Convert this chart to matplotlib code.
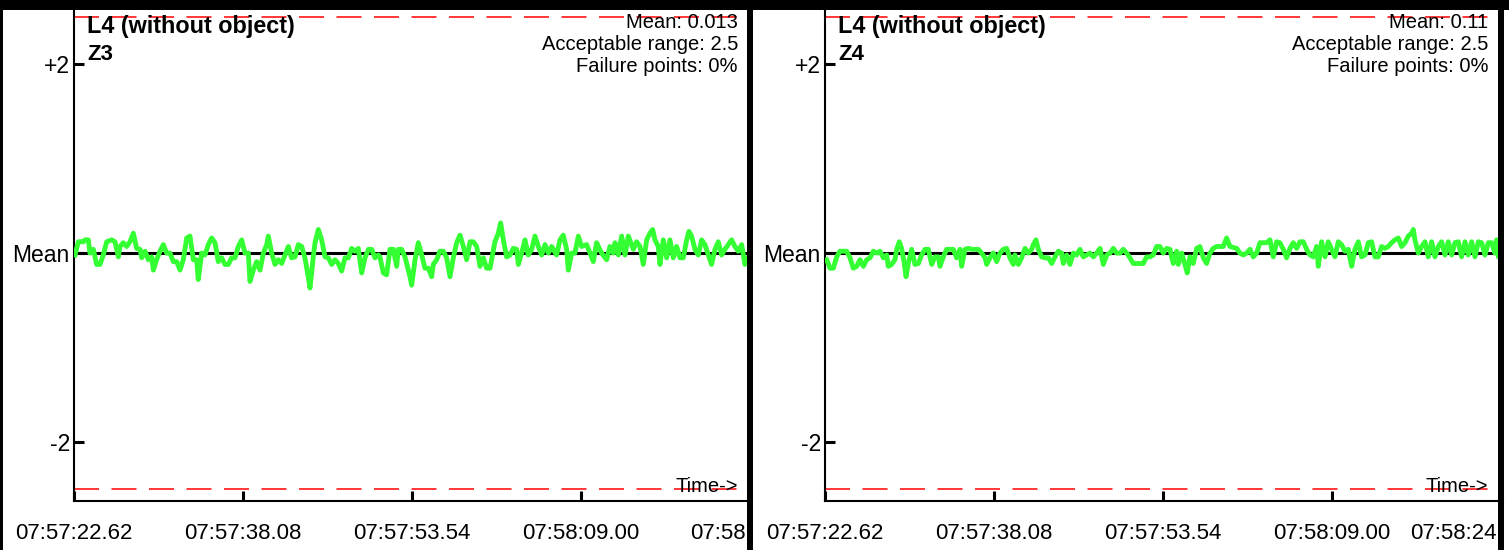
import matplotlib
matplotlib.use("Agg")
import matplotlib.pyplot as plt
from matplotlib.patches import Rectangle
from matplotlib.transforms import Bbox, TransformedBbox

plt.rcParams["font.family"] = ["Liberation Sans", "DejaVu Sans"]
plt.rcParams["lines.scale_dashes"] = False

# time axis (seconds after 07:57:22.62)
tick_times = [0, 15.46, 30.92, 46.38, 61.84]
tick_labels = ["07:57:22.62", "07:57:38.08", "07:57:53.54", "07:58:09.00", "07:58:24.46"]

# Z3: offset from mean
z3_time = [0.09, 0.40, 0.85, 1.01, 1.31, 1.46, 1.77, 2.07, 2.38, 2.68, 2.99, 3.45, 3.75, 4.06, 4.21,
           4.51, 4.82, 5.12, 5.43, 5.73, 6.04, 6.19, 6.50, 6.80, 7.11, 7.26, 7.56, 7.87, 8.17, 8.48,
           8.78, 9.09, 9.39, 9.70, 10.00, 10.31, 10.61, 10.92, 11.22, 11.37, 11.68, 11.98, 12.29, 12.59,
           12.90, 13.20, 13.51, 13.81, 14.12, 14.42, 14.73, 15.03, 15.34, 15.64, 15.95, 16.10, 16.41,
           16.71, 17.02, 17.32, 17.63, 17.78, 18.08, 18.39, 18.69, 19.00, 19.30, 19.61, 19.91, 20.22,
           20.52, 20.83, 21.13, 21.44, 21.59, 21.89, 22.05, 22.35, 22.66, 22.96, 23.27, 23.57, 23.88,
           24.18, 24.49, 24.79, 25.10, 25.40, 25.71, 26.01, 26.32, 26.62, 26.93, 27.23, 27.54, 27.84,
           27.99, 28.30, 28.60, 28.91, 29.21, 29.52, 29.67, 29.98, 30.28, 30.59, 30.74, 30.89, 31.20,
           31.50, 31.81, 32.11, 32.42, 32.72, 32.87, 33.18, 33.48, 33.79, 34.09, 34.40, 34.70, 35.01,
           35.31, 35.62, 35.92, 36.23, 36.53, 36.84, 37.14, 37.45, 37.75, 38.06, 38.51, 38.82, 39.03,
           39.28, 39.58, 39.89, 40.19, 40.50, 40.65, 40.95, 41.26, 41.56, 41.87, 42.17, 42.48, 42.78,
           43.09, 43.39, 43.70, 44.15, 44.46, 44.76, 45.07, 45.22, 45.53, 45.83, 46.14, 46.44, 46.90,
           47.20, 47.51, 47.81, 48.27, 48.73, 49.03, 49.34, 49.49, 49.80, 50.10, 50.41, 50.71, 51.17,
           51.47, 51.78, 52.08, 52.39, 52.69, 52.94, 53.15, 53.45, 53.61, 53.91, 54.22, 54.52, 54.83,
           55.13, 55.44, 55.74, 56.05, 56.26, 56.50, 56.81, 57.11, 57.42, 57.72, 58.03, 58.33, 58.64,
           58.94, 59.25, 59.55, 59.86, 60.16, 60.47, 60.77, 61.08, 61.38, 61.69, 62.00]
z3_offset = [-0.02, 0.12, 0.12, 0.14, 0.14, 0.00, 0.04, -0.12, -0.12, -0.02, 0.12, 0.14, 0.12, -0.04, 0.07,
             0.11, 0.07, 0.12, 0.21, 0.05, 0.04, -0.05, 0.02, -0.07, -0.04, -0.18, -0.07, 0.02, 0.09, 0.00,
             0.00, -0.09, -0.09, -0.18, -0.07, 0.16, 0.18, -0.07, -0.07, -0.28, 0.00, -0.02, 0.09, 0.16,
             0.11, -0.09, -0.05, -0.12, -0.12, -0.05, -0.05, 0.07, 0.14, 0.00, 0.00, -0.30, -0.18,
             -0.09, -0.18, 0.00, 0.09, 0.18, 0.00, -0.12, -0.07, -0.11, -0.02, 0.07, -0.05, -0.04,
             0.09, 0.07, -0.05, -0.26, -0.37, -0.04, 0.11, 0.25, 0.14, -0.04, -0.05, -0.12, -0.07,
             -0.11, -0.19, -0.05, -0.05, 0.05, 0.02, 0.05, -0.21, -0.05, 0.04, 0.04, -0.05, -0.02,
             -0.04, -0.21, -0.23, 0.04, 0.04, -0.14, 0.04, 0.04, -0.04, -0.18, -0.25, -0.34, -0.07,
             0.11, -0.02, -0.16, -0.16, -0.25, -0.12, -0.07, 0.02, 0.02, -0.05, -0.25, -0.05, 0.11,
             0.19, 0.07, -0.07, 0.12, 0.12, 0.07, -0.14, -0.05, -0.16, -0.16, 0.12, 0.21, 0.32,
             0.14, -0.04, -0.02, 0.05, 0.04, -0.12, 0.00, 0.14, -0.02, 0.04, 0.18, 0.07, -0.02,
             0.09, 0.00, 0.07, -0.02, 0.14, 0.19, 0.04, -0.18, 0.00, 0.00, 0.18, 0.07, 0.09,
             0.00, -0.09, 0.11, 0.00, -0.07, 0.07, 0.00, 0.11, -0.02, 0.18, -0.02, 0.18, 0.04,
             0.12, 0.07, -0.12, 0.14, 0.21, 0.25, 0.14, 0.07, -0.12, 0.14, -0.05, 0.14, -0.05,
             0.07, -0.05, -0.05, 0.14, 0.23, 0.18, 0.04, -0.02, 0.14, 0.09, -0.02, -0.12, 0.04,
             0.12, -0.02, 0.04, 0.09, 0.14, 0.07, 0.02, 0.09, -0.12, -0.04, 0.00]

# Z4: offset from mean
z4_time = [0.15, 0.46, 0.76, 1.07, 1.37, 1.68, 1.98, 2.29, 2.59, 2.90, 3.20, 3.51, 3.81, 4.12, 4.42,
           4.73, 5.03, 5.34, 5.64, 5.79, 6.10, 6.40, 6.56, 6.80, 7.01, 7.23, 7.41, 7.62, 7.93, 8.23,
           8.54, 8.84, 9.15, 9.45, 9.76, 10.06, 10.37, 10.52, 10.82, 11.13, 11.43, 11.74, 12.04, 12.35,
           12.50, 12.81, 13.11, 13.42, 13.72, 14.03, 14.33, 14.64, 14.79, 15.09, 15.40, 15.70, 16.01,
           16.31, 16.62, 16.92, 17.23, 17.38, 17.69, 17.99, 18.30, 18.60, 18.91, 19.06, 19.30, 19.52,
           19.82, 20.13, 20.43, 20.74, 21.04, 21.35, 21.65, 21.80, 22.11, 22.41, 22.72, 23.02, 23.33,
           23.63, 23.94, 24.24, 24.55, 24.85, 25.16, 25.46, 25.77, 26.07, 26.38, 26.68, 26.99, 27.29,
           27.60, 27.90, 28.20, 28.51, 28.81, 29.12, 29.42, 29.73, 30.03, 30.34, 30.64, 30.95, 31.25,
           31.56, 31.86, 32.17, 32.32, 32.63, 32.93, 33.14, 33.39, 33.69, 34.00, 34.30, 34.61, 34.91,
           35.22, 35.52, 35.83, 36.44, 36.74, 37.05, 37.66, 37.96, 38.27, 38.57, 38.88, 39.18, 39.49,
           39.79, 40.10, 40.40, 40.71, 41.01, 41.32, 41.62, 41.93, 42.23, 42.54, 42.84, 43.15, 43.45,
           43.76, 44.06, 44.37, 44.67, 44.98, 45.13, 45.43, 45.74, 46.04, 46.35, 46.65, 46.96, 47.26,
           47.57, 47.87, 48.18, 48.48, 48.79, 49.09, 49.40, 49.70, 50.01, 50.31, 50.62, 50.92, 51.23,
           51.53, 51.84, 52.14, 52.45, 52.75, 53.06, 53.36, 53.67, 53.82, 53.97, 54.28, 54.58, 54.89,
           55.19, 55.50, 55.80, 56.11, 56.41, 56.72, 57.02, 57.33, 57.63, 57.94, 58.24, 58.55, 58.85,
           59.16, 59.46, 59.77, 60.07, 60.38, 60.68, 60.99, 61.29, 61.44, 61.60, 62.00]
z4_offset = [-0.07, -0.16, -0.16, -0.04, 0.02, 0.02, 0.02, -0.05, -0.16, -0.14, -0.07, -0.14, -0.07, -0.05, 0.02,
             0.00, 0.02, -0.05, -0.02, -0.14, -0.12, -0.07, 0.04, 0.12, 0.05, -0.09, -0.25, -0.11, 0.04, -0.12,
             -0.11, -0.02, 0.04, 0.04, -0.12, -0.04, -0.04, -0.14, -0.04, 0.04, 0.04, 0.04, -0.05, 0.04,
             -0.14, 0.04, 0.05, 0.04, 0.04, 0.04, 0.00, -0.05, -0.12, -0.05, 0.00, -0.09, 0.00,
             0.04, 0.05, -0.05, -0.12, -0.02, -0.12, -0.05, 0.05, 0.00, 0.04, 0.09, 0.14, 0.04,
             -0.04, -0.05, -0.05, -0.11, -0.04, 0.02, 0.00, -0.11, -0.02, -0.12, 0.00, -0.02, 0.04,
             -0.04, -0.02, 0.00, -0.04, 0.00, 0.05, -0.12, -0.02, 0.00, 0.05, 0.00, 0.00, 0.04,
             0.00, -0.05, -0.11, -0.11, -0.11, -0.11, -0.04, -0.04, -0.02, 0.07, 0.07, 0.00, 0.05,
             0.04, -0.11, 0.02, -0.12, 0.00, -0.12, -0.21, -0.04, -0.11, 0.05, 0.07, -0.05, -0.11,
             0.00, 0.05, 0.07, 0.07, 0.16, 0.07, 0.05, 0.00, -0.02, 0.00, 0.04, -0.04, 0.00,
             0.11, 0.11, 0.11, 0.14, -0.04, 0.12, 0.11, 0.04, -0.05, 0.05, 0.11, 0.05, 0.12,
             0.12, 0.04, -0.02, -0.04, 0.07, -0.14, 0.12, -0.04, 0.12, 0.04, -0.04, 0.12, 0.09,
             0.02, 0.04, -0.14, 0.04, 0.12, -0.04, -0.02, 0.11, 0.12, -0.04, -0.04, 0.07, 0.05,
             0.07, 0.11, 0.14, 0.16, 0.07, 0.11, 0.18, 0.21, 0.25, 0.14, 0.00, 0.07, 0.12,
             -0.04, 0.12, -0.04, 0.07, 0.12, -0.02, 0.12, -0.02, 0.11, 0.12, -0.04, 0.12, -0.02,
             0.12, -0.04, 0.12, 0.11, -0.02, 0.11, 0.11, 0.00, 0.14, -0.04, 0.00]

zones = ["Z3", "Z4"]
means = ["0.013", "0.11"]
acceptable_range = 2.5
failure_points = ["0%", "0%"]

W, H = 1509, 550
fig = plt.figure(figsize=(W / 100, H / 100), dpi=100)


def fx(x):
    return x / W


def fy(y):
    return 1 - y / H


panel_left = [74, 825]
panel_clip = [747, 1498]
last_label_x = [0.909, 0.863]
series = [(z3_time, z3_offset), (z4_time, z4_offset)]

for i in range(2):
    ax = fig.add_axes([fx(panel_left[i]), 49.4 / H, 677.7 / W, 495 / H])
    times, offsets = series[i]

    ax.axhline(0, color="black", lw=2.2, zorder=2)
    ax.plot(times, offsets, color="#33ff33", lw=3.5, zorder=3)
    for lim in (acceptable_range, -acceptable_range):
        ax.axhline(lim, color="red", lw=1.1, ls=(0, (18, 9)), zorder=1)

    ax.set_xlim(0, 62.0)
    ax.set_ylim(-2.62, 2.62)
    ax.set_yticks([-2, 0, 2], ["-2", "Mean", "+2"])
    ax.set_xticks(tick_times, tick_labels[:4] + [""])
    ax.tick_params(axis="y", direction="in", length=7, width=2.2, pad=3, labelsize=16.5)
    ax.tick_params(axis="x", direction="in", length=7, width=2.2, pad=16, labelsize=16)
    for side in ("top", "right"):
        ax.spines[side].set_visible(False)
    for side in ("left", "bottom"):
        ax.spines[side].set_linewidth(1.5)

    # last time label is cut off by the panel border
    clip = TransformedBbox(Bbox.from_extents(0, 0, fx(panel_clip[i]), 1), fig.transFigure)
    last = ax.text(last_label_x[i], -22.2 / 495, tick_labels[4], transform=ax.transAxes,
                   ha="left", va="top", fontsize=16)
    last.set_clip_box(clip)
    last.set_clip_on(True)

    off = panel_left[i] - 74
    right = 738 + off * 0.999
    fig.text(fx(87 + off), fy(26), "L4 (without object)", fontsize=16.8, fontweight="bold",
             ha="left", va="center")
    fig.text(fx(87 + off), fy(55), zones[i], fontsize=16, fontweight="bold",
             ha="left", va="center")
    fig.text(fx(right), fy(23), "Mean: " + means[i], fontsize=14.5, ha="right", va="center")
    fig.text(fx(right), fy(45), "Acceptable range: " + str(acceptable_range),
             fontsize=14.5, ha="right", va="center")
    fig.text(fx(right), fy(67), "Failure points: " + failure_points[i],
             fontsize=14.5, ha="right", va="center")
    fig.text(fx(right), fy(487), "Time->", fontsize=14.5, ha="right", va="center")

# frame bars of the dashboard
bars = [(0, 0, W, 10), (0, 0, 3, H), (747, 0, 6, H), (1498, 0, 6, H)]
for x, y, w, h in bars:
    fig.add_artist(Rectangle((fx(x), fy(y + h)), w / W, h / H, transform=fig.transFigure,
                             facecolor="black", edgecolor="none", zorder=10))

fig.savefig("out.png", dpi=100)
